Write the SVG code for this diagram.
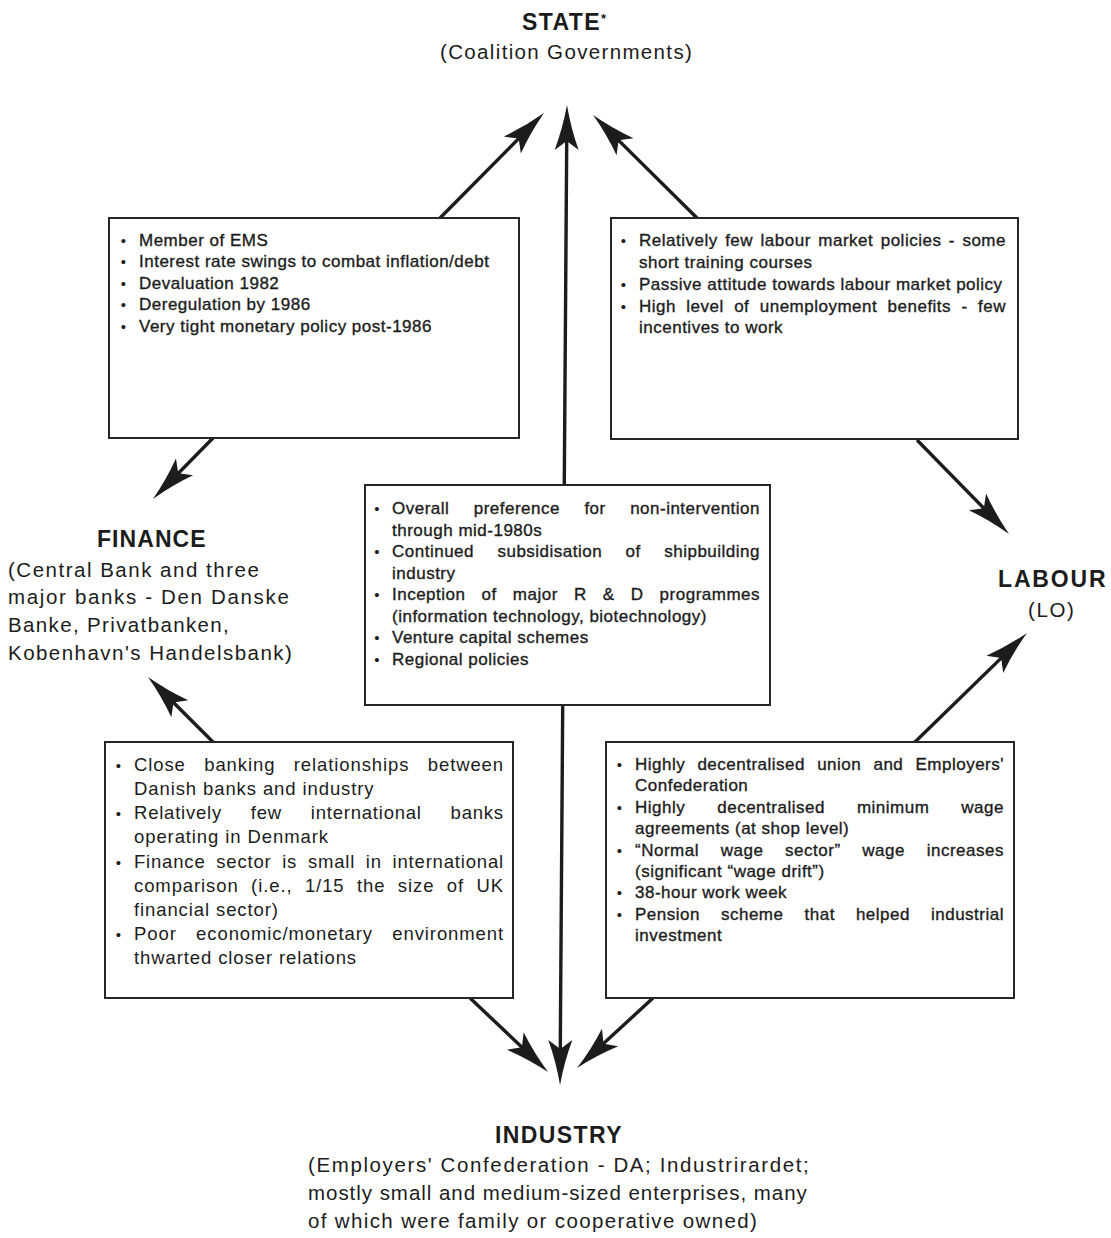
<svg xmlns="http://www.w3.org/2000/svg" width="1111" height="1238" viewBox="0 0 1111 1238">
  <style>
    text { font-family: "Liberation Sans", Arial, "Noto Sans", sans-serif; fill: #1c1c1c; }
    .ttl { font-size: 23px; font-weight: bold; letter-spacing: 1.4px; }
    .sub { font-size: 20.5px; letter-spacing: 1.2px; }
    .box { fill: #ffffff; stroke: #262626; stroke-width: 2; }
    .t17 { font-size: 17px; letter-spacing: 0.5px; stroke: #1c1c1c; stroke-width: 0.35px; }
    .t18 { font-size: 18.5px; letter-spacing: 0.9px; }
    .bul { font-size: 15px; text-anchor: middle; }
    .link { stroke: #1c1c1c; stroke-width: 3.4; fill: none; marker-end: url(#barb); }
  </style>
  <defs>
    <marker id="barb" viewBox="-25 -15 55 30" refX="0" refY="0" markerWidth="55" markerHeight="30" markerUnits="userSpaceOnUse" orient="auto-start-reverse">
      <path d="M25,0 Q2,-4 -20,-12 L-11,0 L-20,12 Q2,4 25,0 Z" fill="#1c1c1c"/>
    </marker>
  </defs>
  <rect width="1111" height="1238" fill="#ffffff"/>

  <!-- connectors -->
  <g id="connectors">
    <line class="link" x1="560.2" y1="1060" x2="566.8" y2="130" marker-start="url(#barb)"/>
    <line class="link" x1="440" y1="218" x2="526.4" y2="130.8"/>
    <line class="link" x1="697" y1="218" x2="610.8" y2="132.6"/>
    <line class="link" x1="213" y1="438" x2="170.5" y2="481.2"/>
    <line class="link" x1="213" y1="742" x2="165.7" y2="694.7"/>
    <line class="link" x1="917" y1="440" x2="991.5" y2="516.1"/>
    <line class="link" x1="915" y1="742" x2="1009.1" y2="650.4"/>
    <line class="link" x1="470" y1="998" x2="529.9" y2="1054.8"/>
    <line class="link" x1="653" y1="998" x2="595.4" y2="1051.1"/>
  </g>

  <!-- actors -->
  <g id="state">
    <text class="ttl" x="522" y="30">STATE<tspan font-size="13" dy="-7" dx="0">*</tspan></text>
    <text class="sub" x="440" y="59" textLength="253" lengthAdjust="spacing">(Coalition Governments)</text>
  </g>

  <g id="finance">
    <text class="ttl" x="97" y="547" textLength="110" lengthAdjust="spacing">FINANCE</text>
    <text class="sub" x="8" y="577" textLength="252" lengthAdjust="spacing">(Central Bank and three</text>
    <text class="sub" x="8" y="604" textLength="282" lengthAdjust="spacing">major banks - Den Danske</text>
    <text class="sub" x="8" y="632" textLength="222" lengthAdjust="spacing">Banke, Privatbanken,</text>
    <text class="sub" x="8" y="660" textLength="285" lengthAdjust="spacing">Kobenhavn's Handelsbank)</text>
  </g>

  <g id="labour">
    <text class="ttl" x="998" y="587" textLength="109" lengthAdjust="spacing">LABOUR</text>
    <text class="sub" x="1028" y="617" textLength="47" lengthAdjust="spacing">(LO)</text>
  </g>

  <g id="industry">
    <text class="ttl" x="495" y="1143" textLength="128" lengthAdjust="spacing">INDUSTRY</text>
    <text class="sub" x="308" y="1172" textLength="502" lengthAdjust="spacing">(Employers' Confederation - DA; Industrirardet;</text>
    <text class="sub" x="308" y="1200" textLength="500" lengthAdjust="spacing">mostly small and medium-sized enterprises, many</text>
    <text class="sub" x="308" y="1228" textLength="450" lengthAdjust="spacing">of which were family or cooperative owned)</text>
  </g>

  <!-- state / finance relations -->
  <g id="box-state-finance">
    <rect class="box" x="109" y="218" width="410" height="220"/>
    <text class="bul" x="123.5" y="245.5">•</text>
    <text class="bul" x="123.5" y="267">•</text>
    <text class="bul" x="123.5" y="288.7">•</text>
    <text class="bul" x="123.5" y="310.3">•</text>
    <text class="bul" x="123.5" y="332">•</text>
    <text class="t17" x="139" y="245.5">Member of EMS</text>
    <text class="t17" x="139" y="267">Interest rate swings to combat inflation/debt</text>
    <text class="t17" x="139" y="288.7">Devaluation 1982</text>
    <text class="t17" x="139" y="310.3">Deregulation by 1986</text>
    <text class="t17" x="139" y="332">Very tight monetary policy post-1986</text>
  </g>

  <!-- state / labour relations -->
  <g id="box-state-labour">
    <rect class="box" x="611" y="218" width="407" height="221"/>
    <text class="bul" x="623.5" y="246">•</text>
    <text class="bul" x="623.5" y="290">•</text>
    <text class="bul" x="623.5" y="311.7">•</text>
    <text class="t17" x="639" y="246" word-spacing="2.2" textLength="367" lengthAdjust="spacing">Relatively few labour market policies - some</text>
    <text class="t17" x="639" y="268">short training courses</text>
    <text class="t17" x="639" y="290">Passive attitude towards labour market policy</text>
    <text class="t17" x="639" y="311.7" word-spacing="5.2" textLength="367" lengthAdjust="spacing">High level of unemployment benefits - few</text>
    <text class="t17" x="639" y="333.3">incentives to work</text>
  </g>

  <!-- state / industry relations -->
  <g id="box-state-industry">
    <rect class="box" x="365" y="485" width="405" height="220"/>
    <text class="bul" x="377" y="514.3">•</text>
    <text class="bul" x="377" y="557.3">•</text>
    <text class="bul" x="377" y="600.3">•</text>
    <text class="bul" x="377" y="643.3">•</text>
    <text class="bul" x="377" y="664.8">•</text>
    <text class="t17" x="392" y="514.3" word-spacing="19.2" textLength="368" lengthAdjust="spacing">Overall preference for non-intervention</text>
    <text class="t17" x="392" y="535.8">through mid-1980s</text>
    <text class="t17" x="392" y="557.3" word-spacing="18.2" textLength="368" lengthAdjust="spacing">Continued subsidisation of shipbuilding</text>
    <text class="t17" x="392" y="578.8">industry</text>
    <text class="t17" x="392" y="600.3" word-spacing="10.9" textLength="368" lengthAdjust="spacing">Inception of major R &amp; D programmes</text>
    <text class="t17" x="392" y="621.8">(information technology, biotechnology)</text>
    <text class="t17" x="392" y="643.3">Venture capital schemes</text>
    <text class="t17" x="392" y="664.8">Regional policies</text>
  </g>

  <!-- finance / industry relations -->
  <g id="box-finance-industry">
    <rect class="box" x="105" y="742" width="408" height="256"/>
    <text class="bul" x="118.5" y="770.7">•</text>
    <text class="bul" x="118.5" y="819.1">•</text>
    <text class="bul" x="118.5" y="867.5">•</text>
    <text class="bul" x="118.5" y="940.1">•</text>
    <text class="t18" x="134" y="770.7" word-spacing="12.4" textLength="370" lengthAdjust="spacing">Close banking relationships between</text>
    <text class="t18" x="134" y="794.9">Danish banks and industry</text>
    <text class="t18" x="134" y="819.1" word-spacing="22.9" textLength="370" lengthAdjust="spacing">Relatively few international banks</text>
    <text class="t18" x="134" y="843.3">operating in Denmark</text>
    <text class="t18" x="134" y="867.5" word-spacing="4.8" textLength="370" lengthAdjust="spacing">Finance sector is small in international</text>
    <text class="t18" x="134" y="891.7" word-spacing="6.4" textLength="370" lengthAdjust="spacing">comparison (i.e., 1/15 the size of UK</text>
    <text class="t18" x="134" y="915.9">financial sector)</text>
    <text class="t18" x="134" y="940.1" word-spacing="13.4" textLength="370" lengthAdjust="spacing">Poor economic/monetary environment</text>
    <text class="t18" x="134" y="964.3">thwarted closer relations</text>
  </g>

  <!-- labour / industry relations -->
  <g id="box-labour-industry">
    <rect class="box" x="606" y="742" width="408" height="256"/>
    <text class="bul" x="619.5" y="770">•</text>
    <text class="bul" x="619.5" y="812.8">•</text>
    <text class="bul" x="619.5" y="855.6">•</text>
    <text class="bul" x="619.5" y="898.4">•</text>
    <text class="bul" x="619.5" y="919.8">•</text>
    <text class="t17" x="635" y="770" word-spacing="7" textLength="369" lengthAdjust="spacing">Highly decentralised union and Employers'</text>
    <text class="t17" x="635" y="791.4">Confederation</text>
    <text class="t17" x="635" y="812.8" word-spacing="26.8" textLength="369" lengthAdjust="spacing">Highly decentralised minimum wage</text>
    <text class="t17" x="635" y="834.2">agreements (at shop level)</text>
    <text class="t17" x="635" y="855.6" word-spacing="16.5" textLength="369" lengthAdjust="spacing">“Normal wage sector” wage increases</text>
    <text class="t17" x="635" y="877">(significant “wage drift”)</text>
    <text class="t17" x="635" y="898.4">38-hour work week</text>
    <text class="t17" x="635" y="919.8" word-spacing="15.8" textLength="369" lengthAdjust="spacing">Pension scheme that helped industrial</text>
    <text class="t17" x="635" y="941.2">investment</text>
  </g>
</svg>
